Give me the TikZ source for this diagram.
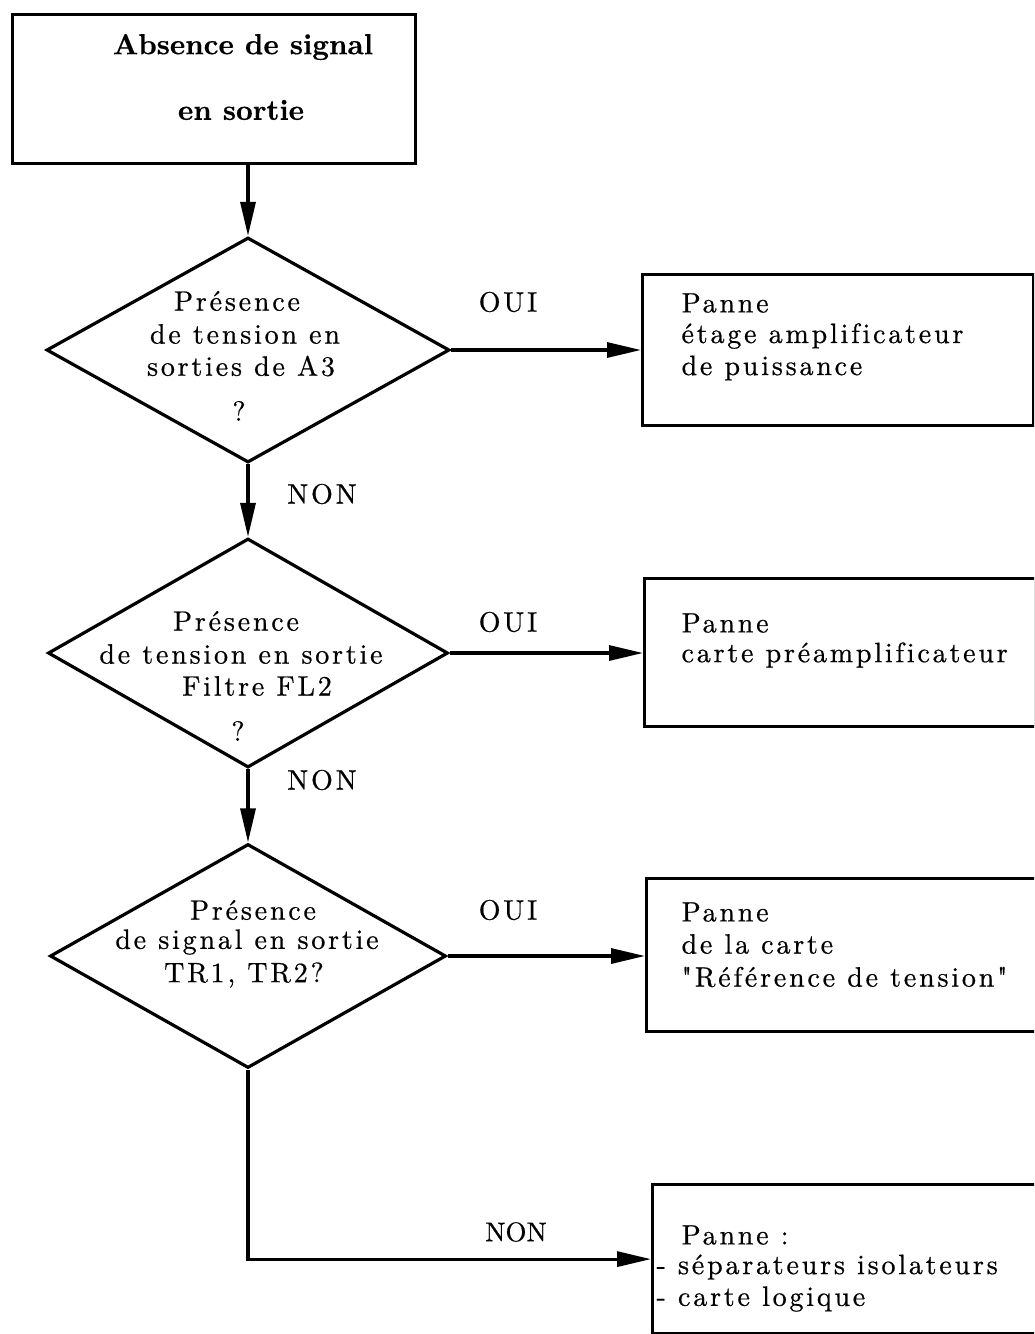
\documentclass[tikz,border=0pt]{standalone}
\usepackage{fontspec}
\usetikzlibrary{shapes.geometric,arrows.meta}
% typewriter-style tracked body face, a plain face and a bold face for the start box
\newfontfamily\trackedfont{lmroman10-regular.otf}[LetterSpace=10,FakeBold=0.6,Ligatures={TeXOff,NoCommon}]
\newfontfamily\plainfont{lmroman10-regular.otf}[FakeBold=0.6]
\newfontfamily\titlefont{lmroman10-bold.otf}[FakeBold=0.4]
\begin{document}
\begin{tikzpicture}[x=1pt,y=-1pt,line width=3.2pt,
  box/.style={draw,rectangle,anchor=north west,inner sep=0pt},
  decision/.style={draw,diamond,inner sep=0pt},
  txt/.style={font=\trackedfont\fontsize{28}{32}\selectfont,inner sep=0pt},
  plaintxt/.style={font=\plainfont\fontsize{27}{32}\selectfont,inner sep=0pt},
  lefttxt/.style={txt,anchor=west},
  title/.style={font=\titlefont\fontsize{29}{34}\selectfont,inner sep=0pt},
  flow/.style={-{Triangle[length=34pt,width=15pt]}}]
\useasboundingbox (0,0) rectangle (1034,1334);
\fill[white] (0,0) rectangle (1034,1334);
\clip (0,0) rectangle (1034,1334);

% start box
\node[box,minimum width=403pt,minimum height=149pt] (start) at (11,13) {};
\node[title] (t1) at (243,47) {Absence de signal};
\node[title] (t2) at (241,110) {en sortie};

% decisions
\node[decision,minimum width=403pt,minimum height=225pt] (d1) at (248,350) {};
\node[txt] (d1a) at (237,301) {Présence};
\node[txt] (d1b) at (245,334) {de tension en};
\node[txt] (d1c) at (241,366) {sorties de A3};
\node[txt] (d1d) at (239,411) {?};

\node[decision,minimum width=400pt,minimum height=229pt] (d2) at (248,653) {};
\node[txt] (d2a) at (236,621) {Présence};
\node[txt] (d2b) at (241,654) {de tension en sortie};
\node[txt] (d2c) at (257,686) {Filtre FL2};
\node[txt] (d2d) at (238,731) {?};

\node[decision,minimum width=396pt,minimum height=224pt] (d3) at (248,956) {};
\node[txt] (d3a) at (253,910) {Présence};
\node[txt] (d3b) at (247,942) {de signal en sortie};
\node[txt] (d3c) at (244,975) {TR1, TR2?};

% fault boxes
\node[box,minimum width=391pt,minimum height=151pt] (b1) at (641,273) {};
\node[lefttxt] (b1a) at (680,303) {Panne};
\node[lefttxt] (b1b) at (680,336) {étage amplificateur};
\node[lefttxt] (b1c) at (680,368) {de puissance};

\node[box,minimum width=391pt,minimum height=148pt] (b2) at (643,577) {};
\node[lefttxt] (b2a) at (680,623) {Panne};
\node[lefttxt] (b2b) at (680,655) {carte préamplificateur};

\node[box,minimum width=420pt,minimum height=153pt] (b3) at (645,877) {};
\node[lefttxt] (b3a) at (680,912) {Panne};
\node[lefttxt] (b3b) at (680,944) {de la carte};
\node[lefttxt] (b3c) at (680,977) {"Référence de tension"};

\node[box,minimum width=420pt,minimum height=149pt] (b4) at (651,1183) {};
\node[lefttxt] (b4a) at (680,1235) {Panne :};
\node[lefttxt] (b4b) at (655,1267) {- séparateurs isolateurs};
\node[lefttxt] (b4c) at (655,1299) {- carte logique};

% branch labels
\node[txt] (oui1) at (508,302) {OUI};
\node[txt] (oui2) at (508,622) {OUI};
\node[txt] (oui3) at (508,910) {OUI};
\node[txt] (non1) at (322,494) {NON};
\node[txt] (non2) at (322,780) {NON};
\node[plaintxt] (non3) at (516,1232) {NON};

% connectors
\draw[flow] (start.south -| d1.north) -- (d1.north);
\draw[flow] (d1.south) -- (d2.north);
\draw[flow] (d2.south) -- (d3.north);
\draw[flow] (d1.east) -- (d1.east -| b1.west);
\draw[flow] (d2.east) -- (d2.east -| b2.west);
\draw[flow] (d3.east) -- (d3.east -| b3.west);
\draw[flow] (d3.south) |- (b4.west);
\end{tikzpicture}
\end{document}
